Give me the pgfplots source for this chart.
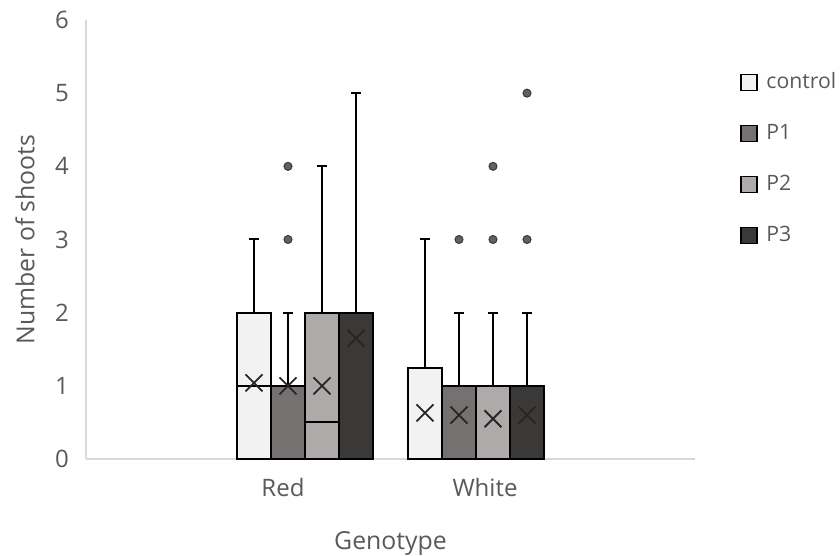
\documentclass[border=0pt]{standalone}
\usepackage{fontspec}
\setmainfont{Open Sans}
\usepackage{pgfplots}
\pgfplotsset{compat=1.18}
\usepgfplotslibrary{statistics}
\definecolor{ctrlc}{HTML}{F2F2F2}
\definecolor{pone}{HTML}{767171}
\definecolor{ptwo}{HTML}{AEAAAA}
\definecolor{pthree}{HTML}{3B3838}
\definecolor{txt}{HTML}{595959}
\definecolor{axl}{HTML}{D9D9D9}
\begin{document}
\begin{tikzpicture}
\useasboundingbox (-43pt,-48.5pt) rectangle (377pt,229.5pt);
\begin{axis}[
  at={(0,0)}, anchor=south west,
  scale only axis, width=304.5pt, height=219.5pt,
  xmin=0.86, xmax=6.95, ymin=0, ymax=6,
  axis x line=bottom, axis y line=left,
  axis line style={draw=axl, line width=0.6pt, -},
  xtick={2.83,4.85}, xticklabels={Red,White},
  ytick={0,1,2,3,4,5,6},
  major tick length=0pt,
  tick style={draw=none},
  font=\fontsize{12.2}{14.6}\selectfont,
  ticklabel style={font=\fontsize{12}{14.4}\selectfont, text=txt},
  /pgf/number format/assume math mode=true,
  xticklabel style={anchor=base, yshift=-19pt},
  yticklabel style={anchor=east, xshift=-5pt},
  xlabel={Genotype}, ylabel={Number of shoots},
  xlabel style={at={(axis description cs:0.5,0)}, anchor=base, yshift=-45pt, text=txt, font=\fontsize{12.4}{14.8}\selectfont},
  ylabel style={at={(axis description cs:-0.1002,0.5)}, anchor=center, text=txt, font=\fontsize{12.4}{14.8}\selectfont},
  legend style={at={(axis description cs:1.074,0.89)}, anchor=north west, draw=none, fill=none,
    inner sep=0pt, row sep=12.3pt, font=\fontsize{10.6}{12.7}\selectfont, text=txt},
  legend cell align=left,
  clip=false,
  boxplot/draw direction=y,
  boxplot/box extend=0.34, boxplot/whisker extend=0.10,
]
\addlegendimage{legend image code/.code={\draw[fill=ctrlc, draw=black, line width=0.6pt] (0pt,-4pt) rectangle (8pt,4pt); \path (10.5pt,0pt);}}
\addlegendimage{legend image code/.code={\draw[fill=pone, draw=black, line width=0.6pt] (0pt,-4pt) rectangle (8pt,4pt); \path (10.5pt,0pt);}}
\addlegendimage{legend image code/.code={\draw[fill=ptwo, draw=black, line width=0.6pt] (0pt,-4pt) rectangle (8pt,4pt); \path (10.5pt,0pt);}}
\addlegendimage{legend image code/.code={\draw[fill=pthree, draw=black, line width=0.6pt] (0pt,-4pt) rectangle (8pt,4pt); \path (10.5pt,0pt);}}
% Red
\addplot[forget plot, fill=ctrlc, draw=black, line width=1pt, boxplot prepared={lower whisker=0, lower quartile=0, median=1, upper quartile=2, upper whisker=3, draw position=2.54}] coordinates {};
\addplot[forget plot, fill=pone, draw=black, line width=1pt, boxplot prepared={lower whisker=0, lower quartile=0, median=1, upper quartile=1, upper whisker=2, draw position=2.88}] coordinates {};
\addplot[forget plot, fill=ptwo, draw=black, line width=1pt, boxplot prepared={lower whisker=0, lower quartile=0, median=0.5, upper quartile=2, upper whisker=4, draw position=3.22}] coordinates {};
\addplot[forget plot, fill=pthree, draw=black, line width=1pt, boxplot prepared={lower whisker=0, lower quartile=0, median=2, upper quartile=2, upper whisker=5, draw position=3.56}] coordinates {};
% White
\addplot[forget plot, fill=ctrlc, draw=black, line width=1pt, boxplot prepared={lower whisker=0, lower quartile=0, median=0, upper quartile=1.25, upper whisker=3, draw position=4.25}] coordinates {};
\addplot[forget plot, fill=pone, draw=black, line width=1pt, boxplot prepared={lower whisker=0, lower quartile=0, median=0, upper quartile=1, upper whisker=2, draw position=4.59}] coordinates {};
\addplot[forget plot, fill=ptwo, draw=black, line width=1pt, boxplot prepared={lower whisker=0, lower quartile=0, median=0, upper quartile=1, upper whisker=2, draw position=4.93}] coordinates {};
\addplot[forget plot, fill=pthree, draw=black, line width=1pt, boxplot prepared={lower whisker=0, lower quartile=0, median=0, upper quartile=1, upper whisker=2, draw position=5.27}] coordinates {};
% means
\addplot[forget plot, only marks, mark=x, mark size=6pt, mark options={draw=black!85, line width=0.9pt}] coordinates {
(2.54,1.04) (2.88,1.0) (3.22,1.0) (3.56,1.65) (4.25,0.63) (4.59,0.6) (4.93,0.55) (5.27,0.6)};
% outliers
\addplot[forget plot, only marks, mark=*, mark size=2pt, mark options={fill=black!62, draw=black!78, line width=0.5pt}] coordinates {
(2.88,3) (2.88,4) (4.59,3) (4.93,3) (4.93,4) (5.27,3) (5.27,5)};
\legend{control,P1,P2,P3}
\end{axis}
\end{tikzpicture}
\end{document}
